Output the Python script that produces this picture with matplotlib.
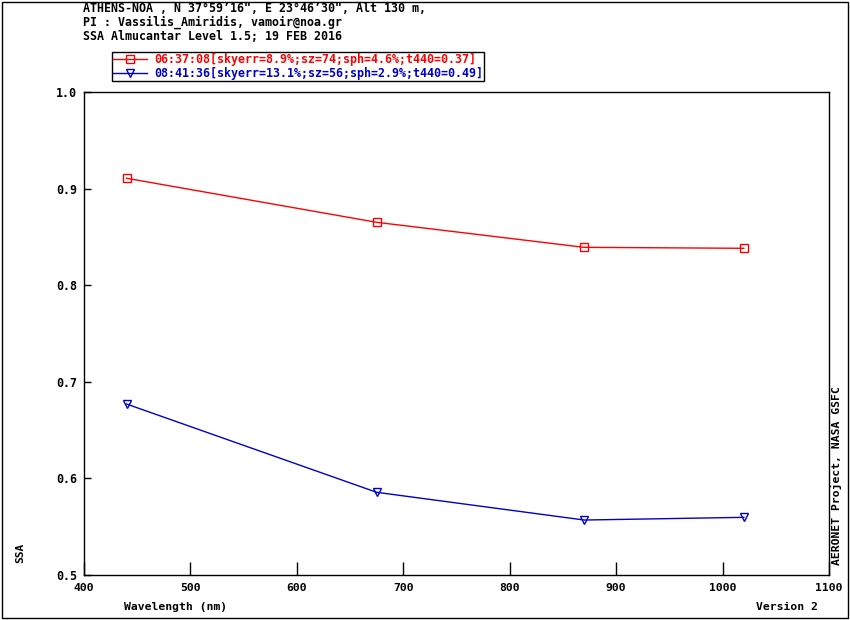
import matplotlib
matplotlib.use("Agg")
import matplotlib.pyplot as plt
from matplotlib.patches import Rectangle

wavelength = [440, 675, 870, 1020]
ssa_0637 = [0.9107, 0.8651, 0.8392, 0.8382]
ssa_0841 = [0.6770, 0.5856, 0.5569, 0.5597]
label_0637 = "06:37:08[skyerr=8.9%;sz=74;sph=4.6%;t440=0.37]"
label_0841 = "08:41:36[skyerr=13.1%;sz=56;sph=2.9%;t440=0.49]"
header = ["ATHENS-NOA , N 37\u00b059\u201916\", E 23\u00b046\u201930\", Alt 130 m,",
          "PI : Vassilis_Amiridis, vamoir@noa.gr",
          "SSA Almucantar Level 1.5; 19 FEB 2016"]
xticks = [400, 500, 600, 700, 800, 900, 1000, 1100]
yticks = [0.5, 0.6, 0.7, 0.8, 0.9, 1.0]

red = '#ff0000'
blue = '#0000cc'
mono = 'DejaVu Sans Mono'
fs = 8.35

plt.rcParams['font.family'] = mono
plt.rcParams['font.weight'] = 'bold'

fig = plt.figure(figsize=(8.5, 6.2), dpi=100)
ax = fig.add_axes([84/850, 45/620, 745/850, 483/620])

ax.plot(wavelength, ssa_0637, color=red, lw=1, marker='s', ms=6, mfc='none',
        mec=red, mew=1, label=label_0637)
ax.plot(wavelength, ssa_0841, color=blue, lw=1, marker='v', ms=6, mfc='none',
        mec=blue, mew=1, label=label_0841)

ax.set_xlim(400, 1100)
ax.set_ylim(0.5, 1.0)
ax.set_xticks(xticks)
ax.set_yticks(yticks)
ax.tick_params(axis='x', direction='in', length=9.5, width=1, pad=6, labelsize=8.2)
ax.tick_params(axis='y', direction='in', length=5, width=1, pad=5, labelsize=fs)
for s in ax.spines.values():
    s.set_linewidth(1)

for i, line in enumerate(header):
    fig.text(83/850, 1 - (9 + 13.5*i)/620, line, fontsize=fs, va='center', ha='left')

fig.legend(loc='upper left', bbox_to_anchor=(112/850, 1 - 52/620), borderaxespad=0,
           fontsize=fs, frameon=True, fancybox=False, edgecolor='black',
           framealpha=1, borderpad=0.1, handlelength=2.9, handletextpad=0.6,
           labelspacing=0.05, numpoints=1, labelcolor='linecolor')

fig.text(20/850, 1 - 563/620, "SSA", rotation=90, fontsize=8, ha='center', va='bottom')
fig.text(124/850, 1 - 607/620, "Wavelength (nm)", fontsize=8.2, ha='left', va='center')
fig.text(818/850, 1 - 607/620, "Version 2", fontsize=8.2, ha='right', va='center')
fig.text(836/850, 1 - 565/620, "AERONET Project, NASA GSFC", rotation=90,
         fontsize=8.2, ha='center', va='bottom')

fig.patches.append(Rectangle((2/850, 2/620), 846/850, 616/620, transform=fig.transFigure,
                             fill=False, edgecolor='black', lw=1))

fig.savefig('out.png', dpi=100)
